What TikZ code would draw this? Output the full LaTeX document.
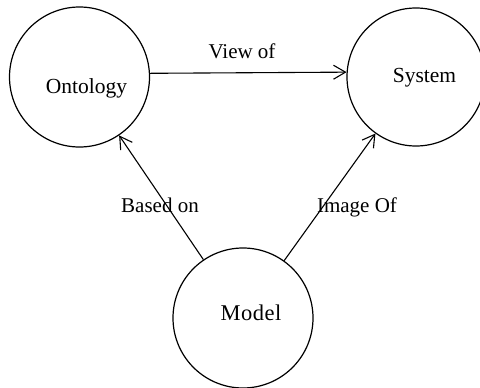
\documentclass[tikz,border=0pt]{standalone}
\usepackage{fontspec}
\setmainfont{Liberation Serif}
\usetikzlibrary{arrows.meta}
\tikzset{
  concept/.style={circle, draw=black, line width=1.2pt, minimum size=140pt, inner sep=0pt},
  ctext/.style={anchor=base, font=\fontsize{21.5}{24}\selectfont, inner sep=0pt},
  elabel/.style={anchor=base, font=\fontsize{21}{24}\selectfont, inner sep=0pt},
  rel/.style={draw=black, line width=1.1pt, -{Straight Barb[length=12pt, width=14pt, line width=1.1pt]}}
}
\begin{document}
\begin{tikzpicture}[x=1pt, y=-1pt]
  \useasboundingbox (0,0) rectangle (480,388);
  \clip (0,0) rectangle (480,388);
  \fill[white] (0,0) rectangle (480,388);

  % concept circles
  \node[concept] (ont) at (79.5,77) {};
  \node[concept, minimum size=138pt] (sys) at (416,77) {};
  \node[concept] (mod) at (243,318) {};

  % circle captions
  \node[ctext] (ontT) at (86.5,93) {Ontology};
  \node[ctext] (sysT) at (424.5,82) {System};
  \node[ctext, font=\fontsize{22.5}{24}\selectfont] (modT) at (251,320) {\addfontfeatures{LetterSpace=2}Model};

  % relations
  \draw[rel] (ont.3.3) -- (sys.176.7);
  \draw[rel] (mod) -- (ont);
  \draw[rel] (mod) -- (sys);

  % relation labels
  \node[elabel] (lview) at (242,58) {View of};
  \node[elabel] (lbased) at (160,212) {Based on};
  \node[elabel] (limage) at (357,212) {Image Of};
\end{tikzpicture}
\end{document}
